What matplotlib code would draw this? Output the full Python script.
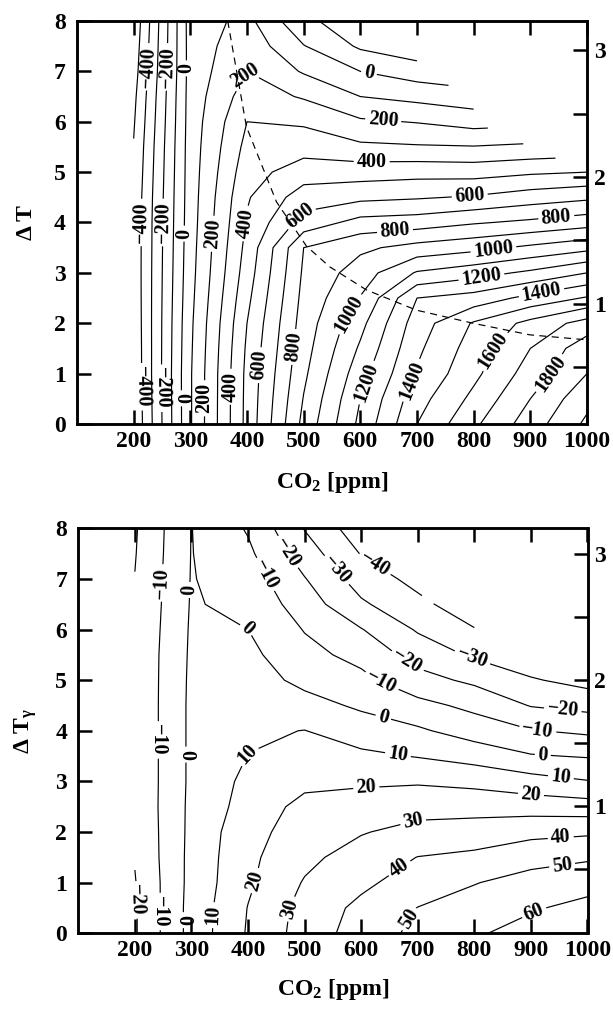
import numpy as np
import matplotlib
matplotlib.use('Agg')
import matplotlib.pyplot as plt
from matplotlib.ticker import FixedLocator

plt.rcParams['font.family'] = ['Liberation Serif', 'DejaVu Serif']
plt.rcParams['font.weight'] = 'bold'
plt.rcParams['mathtext.fontset'] = 'custom'
plt.rcParams['mathtext.rm'] = 'Liberation Serif:bold'
plt.rcParams['mathtext.it'] = 'Liberation Serif:bold'
plt.rcParams['mathtext.bf'] = 'Liberation Serif:bold'
plt.rcParams['lines.dashed_pattern'] = [40, 12]

nan = float('nan')

# ---------------- data ----------------
co2 = [200, 300, 400, 500, 600, 700, 800, 900, 1000]
dT = [0.0, 0.5, 1.0, 1.5, 2.0, 2.5, 3.0, 3.5, 4.0, 4.5, 5.0, 5.5, 6.0, 6.5, 7.0, 7.5, 8.0]

# upper panel field (rows = dT, columns = co2)
top_values = [
    [-490, 90, 530, 930, 1225, 1500, 1680, 1850, 2020],
    [-485, 90, 528, 905, 1200, 1460, 1625, 1800, 1970],
    [-480, 90, 525, 880, 1160, 1410, 1575, 1745, 1900],
    [-478, 85, 515, 860, 1115, 1380, 1545, 1700, 1860],
    [-475, 80, 500, 845, 1070, 1350, 1510, 1630, 1740],
    [-472, 72, 475, 830, 1005, 1300, 1340, 1430, 1510],
    [-470, 65, 450, 815, 950, 1110, 1160, 1220, 1300],
    [-470, 60, 430, 800, 880, 935, 970, 1020, 1070],
    [-470, 55, 410, 640, 735, 750, 790, 820, 857],
    [-475, 52, 390, 550, 575, 590, 610, 650, 680],
    [-485, 50, 360, 450, 455, 465, 460, 485, 500],
    [-495, 48, 330, 360, 320, 310, 305, 320, nan],
    [-510, 45, 300, 285, 215, 195, 160, nan, nan],
    [-525, 43, 250, 190, 100, 70, 40, nan, nan],
    [-545, 40, 200, 90, 0, -50, nan, nan, nan],
    [-560, 42, 165, 5, -115, -170, nan, nan, nan],
    [-575, 45, 130, -85, -140, -195, nan, nan, nan],
]

# lower panel field (rows = dT_gamma, columns = co2)
bottom_values = [
    [-21, 3.5, 21, 34.3, 44.5, 52.4, 59.2, 62.5, 64.5],
    [-21, 3.5, 20.3, 33.5, 42.5, 50.2, 55, 59.3, 62],
    [-20.5, 3, 18.5, 30.8, 37.8, 45, 49.5, 54.5, 57.5],
    [-19.5, 2.8, 17.8, 27.5, 34.5, 40.2, 42, 45.8, 48.5],
    [-19, 2.5, 16.8, 24.5, 29.3, 33.5, 35, 37.5, 38.5],
    [-18.5, 2.3, 14, 23, 24.5, 26, 26, 25.5, 24.5],
    [-18.5, 2, 12.5, 17.5, 18.5, 19, 17.5, 14, 10.5],
    [-18.5, 2, 10.2, 13.5, 12, 9.5, 6, 0.8, -0.7],
    [-18.5, 2, 8.5, 10.2, 5, 1.5, -4.5, -9.5, -11.8],
    [-18.5, 2, 6.5, 3.5, -1.5, -7, -12.5, -20.5, -23],
    [-18.5, 1.8, 4.5, -2.5, -7.5, -16.5, -22, -29, -33.5],
    [-18.5, 1.5, 2.5, -7, -13, -24, -31.5, -37, nan],
    [-19, 1.2, 0, -10.5, -19.5, -31, -39.5, nan, nan],
    [-19.5, 0.8, -2.5, -15, -28.5, -37.5, -46, nan, nan],
    [-19.8, 0.5, -5, -19.5, -34.5, -43, nan, nan, nan],
    [-20.5, 0.3, -8, -25, -40.5, -48, nan, nan, nan],
    [-21, 0.2, -11, -30.5, -46, -52, nan, nan, nan],
]

# dashed optimum line in the upper panel
ridge_co2 = [366, 399, 452, 505, 546, 611, 699, 799, 899, 1000]
ridge_dT = [8.0, 5.9, 4.41, 3.53, 3.12, 2.66, 2.26, 2.0, 1.77, 1.67]

top_label_levels = list(range(-400, 1801, 200))
top_plain_levels = [-500, -300, -100, 100, 300, 500, 700, 900, 1100, 1300,
                    1500, 1700, 1900, 2000]
bottom_levels = [-30, -20, -10, 0, 10, 20, 30, 40, 50, 60]
bottom_dashed_levels = [-40]

x_ticks = [200, 300, 400, 500, 600, 700, 800, 900, 1000]
y_ticks = [0, 1, 2, 3, 4, 5, 6, 7, 8]
right_ticks = [1, 2, 3]
right_minor = [0.5, 1.5, 2.5]

# label anchor points (layout)
top_label_pos = [
    (226, 7.09), (211, 4.0), (214, 0.74),
    (256, 7.09), (252, 4.0), (249, 0.71),
    (290, 7.06), (286, 3.78), (285, 0.51),
    (335, 3.78), (323, 0.51), (390, 6.96),
    (399, 3.98), (370, 0.74),
    (420, 1.17), (499, 4.08), (793, 4.54),
    (482, 1.53), (661, 3.85), (946, 4.08),
    (588, 2.13), (835, 3.45),
    (614, 0.81), (814, 2.89),
    (690, 0.87), (920, 2.59),
    (846, 1.40), (935, 1.0),
    (614, 6.89), (640, 5.98), (620, 5.17),
]
bottom_label_pos = [
    (250, 6.92), (297, 6.78), (462, 7.48), (424, 7.05), (397, 5.99),
    (238, 3.82), (288, 3.53), (394, 3.56), (409, 1.05),
    (203, 0.66), (247, 0.43), (284, 0.26), (335, 0.36), (471, 0.49),
    (550, 7.11), (680, 5.34), (794, 5.37), (632, 4.87), (638, 4.22),
    (665, 3.53), (609, 2.87), (691, 2.24), (668, 1.28), (682, 0.30),
    (956, 4.38), (912, 4.02), (921, 3.53), (953, 3.09), (900, 2.73),
    (953, 1.84), (956, 1.28), (906, 0.40),
]
bottom_dashed_label_pos = [(618, 7.18)]


def fmt(v):
    return f"{v:.0f}".replace('-', '\u2212')


W, H = 613, 1009
fig = plt.figure(figsize=(W / 100, H / 100), dpi=100)

ax1 = fig.add_axes([77 / W, 1 - 424 / H, 510 / W, 403 / H])
ax2 = fig.add_axes([78.3 / W, 1 - 933.3 / H, 509.2 / W, 405 / H])

X, Y = np.meshgrid(co2, dT)
Ztop = np.ma.masked_invalid(np.array(top_values, dtype=float))
Zbot = np.ma.masked_invalid(np.array(bottom_values, dtype=float))

TICK_FS = 17
LABEL_FS = 14.5


def style_axes(ax, ylabel, rlim, xlabelpad):
    ax.set_xlim(100, 1000)
    ax.set_ylim(0, 8)
    ax.set_xticks(x_ticks)
    ax.set_yticks(y_ticks)
    ax.tick_params(axis='both', direction='in', length=10, width=1.8,
                   labelsize=TICK_FS, top=True, right=False)
    ax.tick_params(axis='x', pad=5)
    ax.tick_params(axis='y', pad=8)
    for s in ax.spines.values():
        s.set_linewidth(1.8)
    ax.set_xlabel('CO$_2$ [ppm]', fontsize=17, fontweight='bold', labelpad=xlabelpad)
    ax.set_ylabel(ylabel, fontsize=17, fontweight='bold', labelpad=12)
    tw = ax.twinx()
    tw.set_ylim(*rlim)
    tw.yaxis.set_major_locator(FixedLocator(right_ticks))
    tw.yaxis.set_minor_locator(FixedLocator(right_minor))
    tw.tick_params(axis='y', which='both', direction='in', length=10, width=1.8,
                   labelsize=TICK_FS, pad=5)
    for s in tw.spines.values():
        s.set_linewidth(1.8)
    return tw


style_axes(ax1, 'Δ T', (0.051, 3.231), 13)
style_axes(ax2, 'Δ T$_\\gamma$', (-0.012, 3.201), 11)

# upper panel
ax1.contour(X, Y, Ztop, levels=top_plain_levels, colors='k', linewidths=0.85,
            linestyles='solid')
cs1 = ax1.contour(X, Y, Ztop, levels=top_label_levels, colors='k',
                  linewidths=0.85, linestyles='solid')
ax1.clabel(cs1, manual=top_label_pos, inline=True, inline_spacing=3,
           fmt=fmt, fontsize=LABEL_FS)
ax1.plot(ridge_co2, ridge_dT, color='k', lw=0.85, dashes=(6, 4.5))

# lower panel
cs2 = ax2.contour(X, Y, Zbot, levels=bottom_levels, colors='k', linewidths=0.85,
                  linestyles='solid')
ax2.clabel(cs2, manual=bottom_label_pos, inline=True, inline_spacing=3,
           fmt=fmt, fontsize=LABEL_FS)
cs3 = ax2.contour(X, Y, Zbot, levels=bottom_dashed_levels, colors='k',
                  linewidths=0.85, linestyles='dashed')
ax2.clabel(cs3, manual=bottom_dashed_label_pos, inline=True, inline_spacing=3,
           fmt=fmt, fontsize=LABEL_FS)

fig.savefig('out.png', dpi=100)
